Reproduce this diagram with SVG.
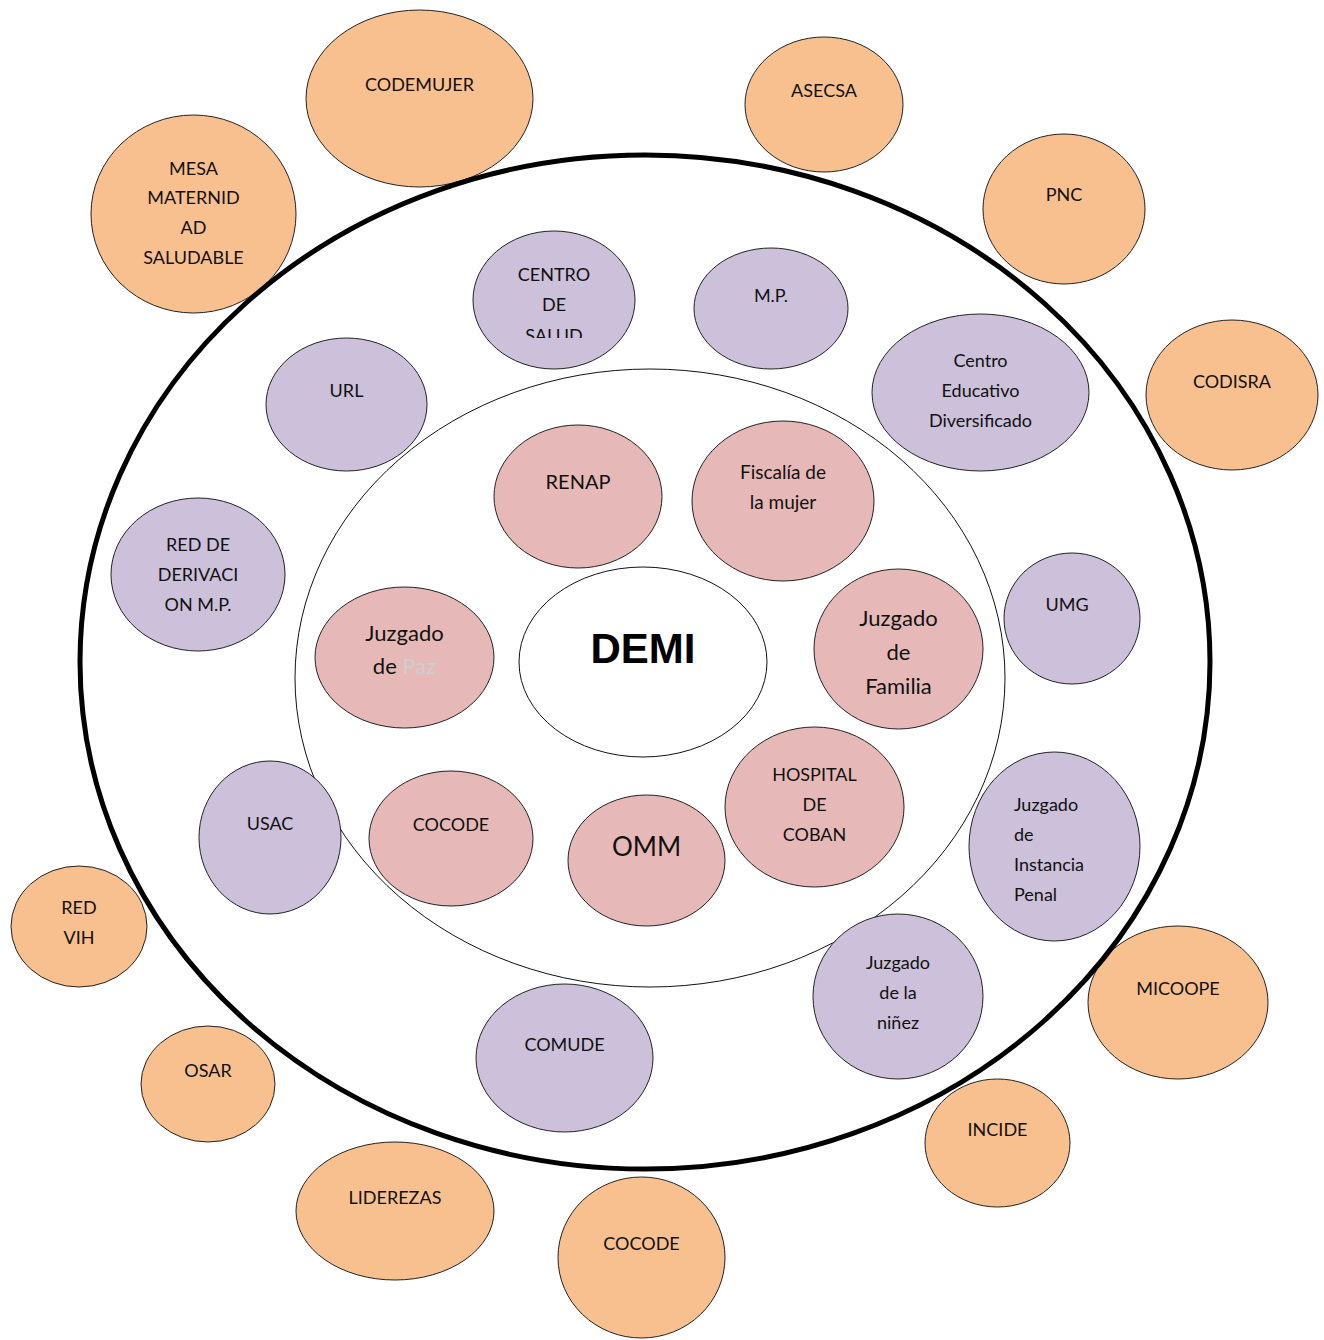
<svg xmlns="http://www.w3.org/2000/svg" width="1324" height="1340" viewBox="0 0 1324 1340">
<style>
.o{fill:#F9C08F;stroke:#222;stroke-width:1}
.p{fill:#CCC0DA;stroke:#222;stroke-width:1}
.k{fill:#E6B9B8;stroke:#222;stroke-width:1}
text{font-family:Lato,"Liberation Sans",sans-serif;font-size:18px;fill:#111;text-anchor:middle;dominant-baseline:central}
.l{text-anchor:start}
</style>
<defs>
<clipPath id="cs"><rect x="470" y="225" width="170" height="113"/></clipPath>
</defs>
<rect width="1324" height="1340" fill="#fff"/>
<g id="rings">
<ellipse cx="650" cy="678" rx="355" ry="309" fill="#fff" stroke="#111" stroke-width="1"/>
</g>
<g id="n-codemujer"><ellipse class="o" cx="419.5" cy="98.5" rx="113.5" ry="88.5"/><text x="419.5" y="84">CODEMUJER</text></g>
<g id="n-asecsa"><ellipse class="o" cx="824" cy="104.5" rx="79" ry="67.5"/><text x="824" y="90">ASECSA</text></g>
<g id="n-pnc"><ellipse class="o" cx="1064" cy="209" rx="81" ry="75"/><text x="1064" y="194">PNC</text></g>
<g id="n-codisra"><ellipse class="o" cx="1232" cy="395" rx="86" ry="75"/><text x="1232" y="381">CODISRA</text></g>
<g id="n-mesa"><ellipse class="o" cx="193.5" cy="214" rx="102.5" ry="99"/><text x="193.5" y="168">MESA</text><text x="193.5" y="197">MATERNID</text><text x="193.5" y="227">AD</text><text x="193.5" y="257">SALUDABLE</text></g>
<g id="n-micoope"><ellipse class="o" cx="1178" cy="1002.5" rx="90" ry="76.5"/><text x="1178" y="988">MICOOPE</text></g>
<g id="n-incide"><ellipse class="o" cx="997.5" cy="1143" rx="72.5" ry="64"/><text x="997.5" y="1129">INCIDE</text></g>
<g id="n-cocode-ext"><ellipse class="o" cx="641.5" cy="1257.5" rx="83.5" ry="80.5"/><text x="641.5" y="1243">COCODE</text></g>
<g id="n-liderezas"><ellipse class="o" cx="395" cy="1211" rx="99" ry="69"/><text x="395" y="1197">LIDEREZAS</text></g>
<g id="n-osar"><ellipse class="o" cx="208" cy="1084" rx="67" ry="58"/><text x="208" y="1070">OSAR</text></g>
<g id="n-redvih"><ellipse class="o" cx="79" cy="926.5" rx="68" ry="60.5"/><text x="79" y="907">RED</text><text x="79" y="937">VIH</text></g>
<g id="ring-outer"><ellipse cx="645" cy="662" rx="565" ry="507" fill="none" stroke="#000" stroke-width="5"/></g>
<g id="n-centrosalud"><ellipse class="p" cx="554" cy="300" rx="81" ry="69"/><g clip-path="url(#cs)"><text x="554" y="274">CENTRO</text><text x="554" y="304">DE</text><text x="554" y="335">SALUD</text></g></g>
<g id="n-mp"><ellipse class="p" cx="771" cy="308.5" rx="77" ry="60.5"/><text x="771" y="295">M.P.</text></g>
<g id="n-url"><ellipse class="p" cx="346.5" cy="404.5" rx="80.5" ry="66.5"/><text x="346.5" y="390">URL</text></g>
<g id="n-ced"><ellipse class="p" cx="980.5" cy="392.5" rx="108.5" ry="78.5"/><text x="980.5" y="360">Centro</text><text x="980.5" y="390">Educativo</text><text x="980.5" y="420">Diversificado</text></g>
<g id="n-redder"><ellipse class="p" cx="198" cy="574.5" rx="87" ry="76.5"/><text x="198" y="544">RED DE</text><text x="198" y="574">DERIVACI</text><text x="198" y="604">ON M.P.</text></g>
<g id="n-umg"><ellipse class="p" cx="1072" cy="618.5" rx="68" ry="65.5"/><text x="1067" y="604">UMG</text></g>
<g id="n-usac"><ellipse class="p" cx="270" cy="837.5" rx="71" ry="76.5"/><text x="270" y="823">USAC</text></g>
<g id="n-jip"><ellipse class="p" cx="1054.5" cy="846.5" rx="85.5" ry="94.5"/><text class="l" x="1014" y="804">Juzgado</text><text class="l" x="1014" y="834">de</text><text class="l" x="1014" y="864">Instancia</text><text class="l" x="1014" y="894">Penal</text></g>
<g id="n-comude"><ellipse class="p" cx="564.5" cy="1058" rx="88.5" ry="74"/><text x="564.5" y="1044">COMUDE</text></g>
<g id="n-jninez"><ellipse class="p" cx="898" cy="996.5" rx="85" ry="82.5"/><text x="898" y="962">Juzgado</text><text x="898" y="992">de la</text><text x="898" y="1022">niñez</text></g>
<g id="n-demi"><ellipse cx="643" cy="662" rx="124" ry="95" fill="#fff" stroke="#111" stroke-width="1"/><text x="643" y="648" style="font-family:'Liberation Sans',Arial,sans-serif;font-weight:bold;font-size:42px;fill:#000">DEMI</text></g>
<g id="n-renap"><ellipse class="k" cx="578" cy="496.5" rx="84" ry="71.5"/><text x="578" y="481" style="font-size:20px">RENAP</text></g>
<g id="n-fiscalia"><ellipse class="k" cx="783" cy="501" rx="91" ry="80"/><text x="783" y="471" style="font-size:19px">Fiscalía de</text><text x="783" y="501" style="font-size:19px">la mujer</text></g>
<g id="n-jpaz"><ellipse class="k" cx="404.5" cy="657.5" rx="89.5" ry="70.5"/><text x="404.5" y="632" style="font-size:22px">Juzgado</text><text x="404.5" y="665" style="font-size:22px">de <tspan style="fill:#D0CECE">Paz</tspan></text></g>
<g id="n-jfam"><ellipse class="k" cx="898.5" cy="649" rx="84.5" ry="80"/><text x="898.5" y="617" style="font-size:22px">Juzgado</text><text x="898.5" y="651" style="font-size:22px">de</text><text x="898.5" y="685" style="font-size:22px">Familia</text></g>
<g id="n-hospital"><ellipse class="k" cx="814.5" cy="807" rx="89.5" ry="80"/><text x="814.5" y="774">HOSPITAL</text><text x="814.5" y="804">DE</text><text x="814.5" y="834">COBAN</text></g>
<g id="n-cocode-int"><ellipse class="k" cx="451" cy="838.5" rx="82" ry="67.5"/><text x="451" y="824">COCODE</text></g>
<g id="n-omm"><ellipse class="k" cx="646.5" cy="860.5" rx="78.5" ry="65.5"/><text x="646.5" y="846" style="font-size:26px">OMM</text></g>
</svg>
